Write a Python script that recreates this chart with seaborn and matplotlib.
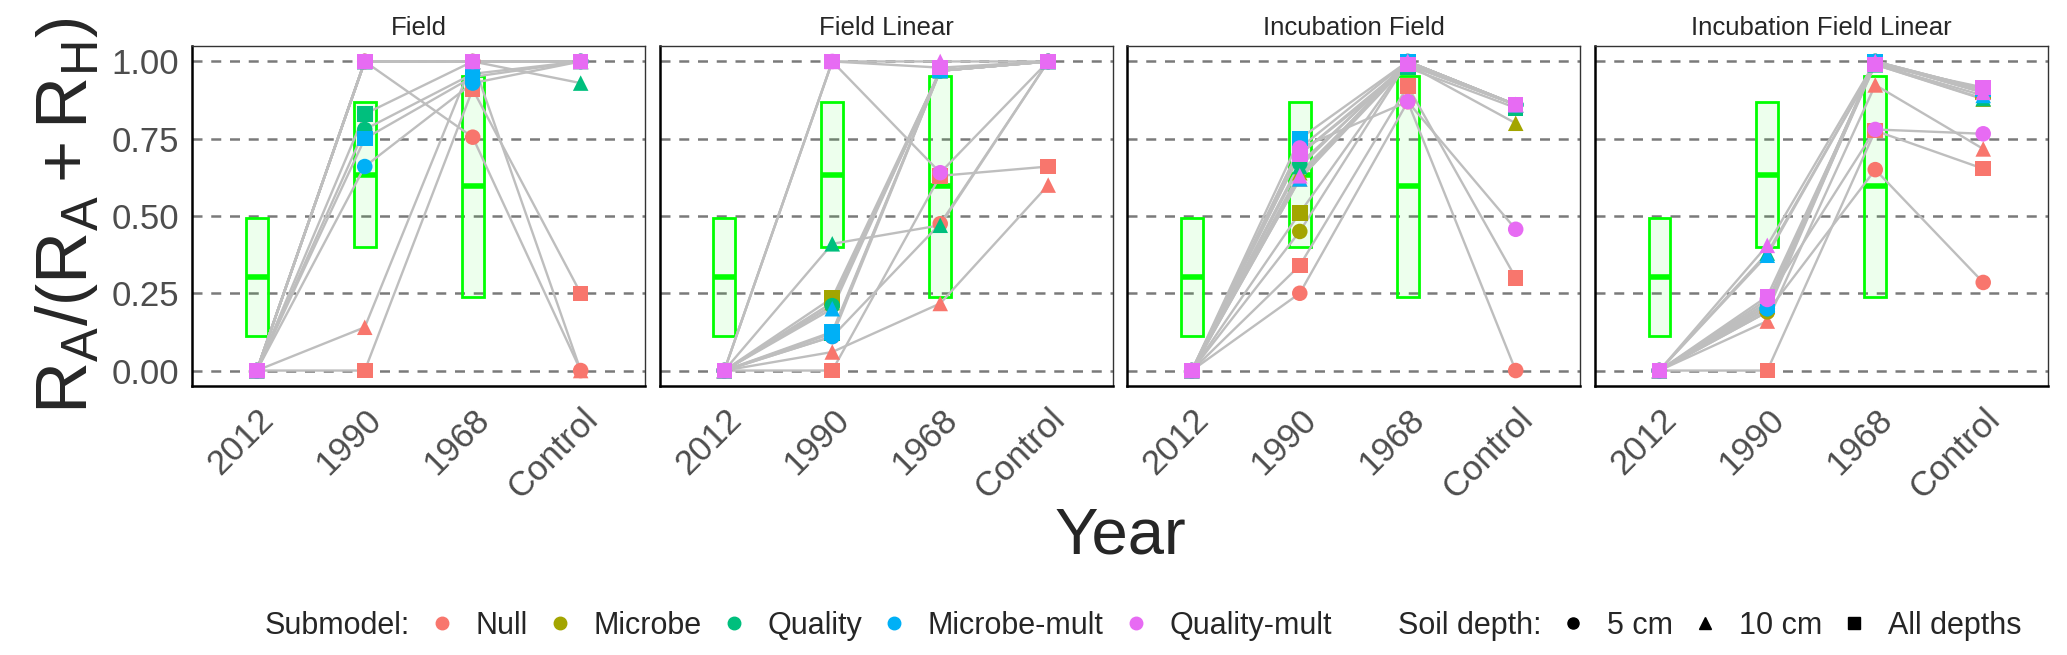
import matplotlib
matplotlib.use("Agg")
import matplotlib.pyplot as plt
import numpy as np
import pandas as pd
import seaborn as sns
from matplotlib.lines import Line2D

years = ["2012", "1990", "1968", "Control"]
panels = ["Field", "Field Linear", "Incubation Field", "Incubation Field Linear"]
submodels = ["Null", "Microbe", "Quality", "Microbe-mult", "Quality-mult"]
depths = ["5 cm", "10 cm", "All depths"]
colors = ["#F8766D", "#A3A500", "#00BF7D", "#00B0F6", "#E76BF3"]

# observed ranges (crossbars) for the three dated plots
box_lo = [0.113, 0.40, 0.239]
box_mid = [0.303, 0.634, 0.596]
box_hi = [0.4925, 0.87, 0.954]

# series order: Null 5/10/all, Microbe 5/10/all, Quality ..., Microbe-mult ..., Quality-mult ...
field_2012 = [0.0] * 15
field_1990 = [1.00, 0.14, 0.00, 1.00, 1.00, 1.00, 0.78, 1.00, 0.83, 0.66, 1.00, 0.75, 1.00, 1.00, 1.00]
field_1968 = [0.755, 1.00, 0.91, 1.00, 1.00, 1.00, 0.96, 1.00, 1.00, 0.93, 1.00, 0.95, 1.00, 1.00, 1.00]
field_control = [0.00, 0.00, 0.25, 1.00, 1.00, 1.00, 1.00, 0.93, 1.00, 1.00, 1.00, 1.00, 1.00, 1.00, 1.00]

fl_2012 = [0.0] * 15
fl_1990 = [0.11, 0.06, 0.00, 0.21, 0.22, 0.235, 0.21, 0.41, 0.12, 0.11, 0.20, 0.125, 1.00, 1.00, 1.00]
fl_1968 = [0.475, 0.217, 0.63, 0.97, 0.97, 0.97, 0.97, 0.47, 0.97, 0.97, 0.97, 0.97, 0.64, 1.00, 0.98]
fl_control = [1.00, 0.60, 0.66, 1.00, 1.00, 1.00, 1.00, 1.00, 1.00, 1.00, 1.00, 1.00, 1.00, 1.00, 1.00]

if_2012 = [0.0] * 15
if_1990 = [0.25, 0.62, 0.34, 0.45, 0.64, 0.51, 0.67, 0.66, 0.70, 0.72, 0.62, 0.75, 0.72, 0.63, 0.70]
if_1968 = [0.87, 1.00, 0.92, 1.00, 0.99, 1.00, 0.99, 1.00, 0.98, 1.00, 0.99, 1.00, 0.87, 1.00, 0.99]
if_control = [0.00, 0.86, 0.30, 0.86, 0.80, 0.86, 0.86, 0.86, 0.85, 0.86, 0.86, 0.86, 0.457, 0.86, 0.86]

ifl_2012 = [0.0] * 15
ifl_1990 = [0.19, 0.16, 0.00, 0.19, 0.21, 0.22, 0.20, 0.38, 0.22, 0.20, 0.373, 0.21, 0.23, 0.405, 0.24]
ifl_1968 = [0.65, 0.924, 0.776, 1.00, 0.99, 1.00, 1.00, 0.99, 1.00, 1.00, 0.99, 1.00, 0.78, 1.00, 0.99]
ifl_control = [0.285, 0.717, 0.653, 0.90, 0.878, 0.90, 0.90, 0.88, 0.91, 0.91, 0.89, 0.91, 0.766, 0.90, 0.916]

panel_values = {
    "Field": [field_2012, field_1990, field_1968, field_control],
    "Field Linear": [fl_2012, fl_1990, fl_1968, fl_control],
    "Incubation Field": [if_2012, if_1990, if_1968, if_control],
    "Incubation Field Linear": [ifl_2012, ifl_1990, ifl_1968, ifl_control],
}

rows = []
for p in panels:
    for yi, vals in enumerate(panel_values[p]):
        k = 0
        for s in submodels:
            for d in depths:
                rows.append({"panel": p, "x": yi, "value": vals[k], "Submodel": s,
                             "Depth": d, "series": s + "_" + d})
                k += 1
data = pd.DataFrame(rows)

sns.set_style("white")
plt.rcParams["font.family"] = ["Liberation Sans", "DejaVu Sans"]
plt.rcParams["mathtext.fontset"] = "custom"
plt.rcParams["mathtext.rm"] = "Liberation Sans"
plt.rcParams["mathtext.it"] = "Liberation Sans"

W, H = 2067, 655
fig, axes = plt.subplots(1, 4, figsize=(W / 100, H / 100), dpi=100, sharey=True)
fig.subplots_adjust(left=192 / W, right=2048 / W, bottom=1 - 386 / H, top=1 - 46 / H, wspace=0.031)

palette = dict(zip(submodels, colors))
markers = {"5 cm": "o", "10 cm": "^", "All depths": "s"}

for ax, p in zip(axes, panels):
    d = data[data["panel"] == p]
    for yv in [0, 0.25, 0.5, 0.75, 1.0]:
        ax.axhline(yv, color="#7A7A7A", lw=1.8, ls=(0, (4, 3.5)), zorder=0)
    ax.bar(range(3), np.array(box_hi) - np.array(box_lo), bottom=box_lo, width=0.2,
           facecolor=(0, 1, 0, 0.07), edgecolor="#00FF00", lw=2, zorder=1)
    ax.hlines(box_mid, np.arange(3) - 0.1, np.arange(3) + 0.1, color="#00FF00", lw=4, zorder=1)
    sns.lineplot(data=d, x="x", y="value", units="series", estimator=None, sort=False,
                 color="#BEBEBE", lw=1.7, ax=ax, legend=False, zorder=2)
    sns.scatterplot(data=d, x="x", y="value", hue="Submodel", style="Depth",
                    hue_order=submodels, style_order=depths, palette=palette, markers=markers,
                    s=125, edgecolor="none", linewidth=0, legend=False, ax=ax, zorder=3)
    ax.set_xlim(-0.6, 3.6)
    ax.set_ylim(-0.05, 1.05)
    ax.set_xticks(range(4))
    ax.set_xticklabels(years, rotation=45, ha="right", rotation_mode="anchor")
    ax.set_yticks([0, 0.25, 0.5, 0.75, 1.0])
    ax.set_yticklabels(["0.00", "0.25", "0.50", "0.75", "1.00"])
    ax.tick_params(axis="both", labelsize=25, labelcolor="#4D4D4D", color="black",
                   length=6, width=1.2, direction="out")
    ax.tick_params(axis="x", pad=6)
    ax.set_xlabel("")
    ax.set_ylabel("")
    ax.set_title(p, fontsize=18.5, pad=8)
    for side in ["top", "right"]:
        ax.spines[side].set_color("#333333")
        ax.spines[side].set_linewidth(1)
    for side in ["left", "bottom"]:
        ax.spines[side].set_color("black")
        ax.spines[side].set_linewidth(1.8)

for ax in axes[1:]:
    ax.tick_params(axis="y", length=0, labelleft=False)

axes[0].set_ylabel(r"$\mathrm{R_A/\left(R_A + R_H\right)}$", fontsize=52, labelpad=6)
fig.text(1120 / W, 1 - 536 / H, "Year", fontsize=47, ha="center", va="center")

handles = [Line2D([], [], ls="none")]
labels = ["Submodel:"]
for s, c in zip(submodels, colors):
    handles.append(Line2D([], [], ls="none", marker="o", color=c, markersize=9))
    labels.append(s)
handles.append(Line2D([], [], ls="none"))
labels.append("Soil depth:")
for dname in depths:
    handles.append(Line2D([], [], ls="none", marker=markers[dname], color="black", markersize=8))
    labels.append(dname)
fig.legend(handles, labels, loc="center", bbox_to_anchor=(1120 / W, 1 - 626 / H), ncol=len(labels),
           frameon=False, fontsize=22, handlelength=0.8, handletextpad=0.7, columnspacing=0.65)

fig.savefig("out.png", dpi=100)
